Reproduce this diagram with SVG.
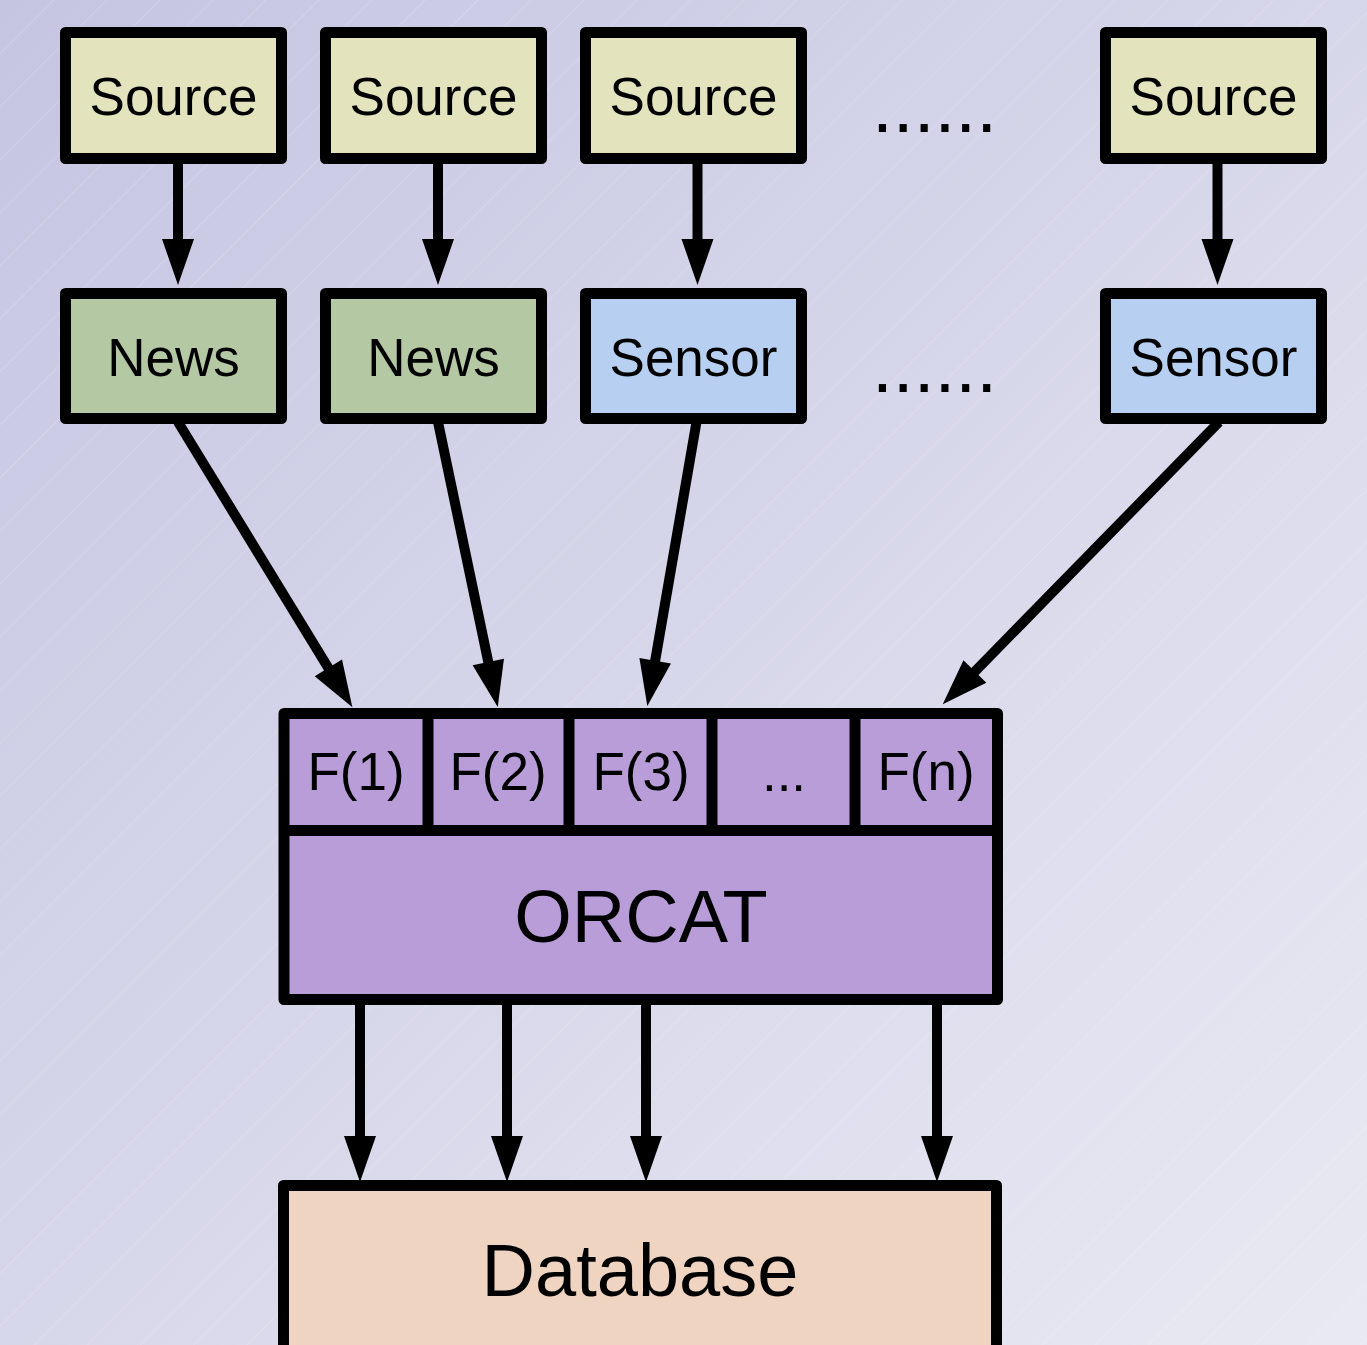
<svg xmlns="http://www.w3.org/2000/svg" width="1367" height="1345" viewBox="0 0 1367 1345">
  <defs>
    <linearGradient id="bg" x1="0" y1="0" x2="1" y2="1">
      <stop offset="0" stop-color="#c5c5e2"/>
      <stop offset="1" stop-color="#e9e9f3"/>
    </linearGradient>
    <pattern id="hatch" patternUnits="userSpaceOnUse" width="37.5" height="20" patternTransform="rotate(45)">
      <line x1="0" y1="0" x2="0" y2="20" stroke="#ffffff" stroke-opacity="0.28" stroke-width="1"/>
    </pattern>
    <marker id="head" viewBox="0 -16.5 47 33" refX="1" refY="0" markerWidth="47" markerHeight="33" markerUnits="userSpaceOnUse" orient="auto" overflow="visible">
      <path d="M0,-16 L46,0 L0,16 Z" fill="#000"/>
    </marker>
    <style>
      .box { stroke: #000; stroke-width: 11; stroke-linejoin: round; }
      .src { fill: #e3e3bd; }
      .news { fill: #b3c8a3; }
      .sensor { fill: #b7d0f2; }
      .orcat { fill: #b89dd9; }
      .db { fill: #eed4c1; }
      .lbl { font-family: "Liberation Sans", Arial, sans-serif; font-size: 53px; fill: #000; text-anchor: middle; }
      .big { font-size: 74px; }
      .dots { font-family: "Liberation Sans", Arial, sans-serif; font-size: 75px; fill: #000; }
      .div { stroke: #000; stroke-width: 11; }
      .conn line { stroke: #000; stroke-width: 10; marker-end: url(#head); }
    </style>
  </defs>

  <!-- background -->
  <rect x="0" y="0" width="1367" height="1345" fill="url(#bg)"/>
  <rect x="0" y="0" width="1367" height="1345" fill="url(#hatch)"/>

  <!-- source row -->
  <g id="source1"><rect class="box src" x="65.5" y="32.5" width="216" height="126"/><text class="lbl" x="173.5" y="115">Source</text></g>
  <g id="source2"><rect class="box src" x="325.5" y="32.5" width="216" height="126"/><text class="lbl" x="433.5" y="115">Source</text></g>
  <g id="source3"><rect class="box src" x="585.5" y="32.5" width="216" height="126"/><text class="lbl" x="693.5" y="115">Source</text></g>
  <g id="source4"><rect class="box src" x="1105.5" y="32.5" width="216" height="126"/><text class="lbl" x="1213.5" y="115">Source</text></g>
  <text id="dots-top" class="dots" x="872" y="132">......</text>

  <!-- feed row -->
  <g id="news1"><rect class="box news" x="65.5" y="293.5" width="216" height="125"/><text class="lbl" x="173.5" y="376">News</text></g>
  <g id="news2"><rect class="box news" x="325.5" y="293.5" width="216" height="125"/><text class="lbl" x="433.5" y="376">News</text></g>
  <g id="sensor1"><rect class="box sensor" x="585.5" y="293.5" width="216" height="125"/><text class="lbl" x="693.5" y="376">Sensor</text></g>
  <g id="sensor2"><rect class="box sensor" x="1105.5" y="293.5" width="216" height="125"/><text class="lbl" x="1213.5" y="376">Sensor</text></g>
  <text id="dots-mid" class="dots" x="872" y="392">......</text>

  <!-- ORCAT with its filter slots -->
  <g id="orcat">
    <rect class="box orcat" x="284" y="713.5" width="713.5" height="286"/>
    <line class="div" x1="284" y1="830.5" x2="997.5" y2="830.5" stroke-width="12"/>
    <line class="div" x1="428" y1="713.5" x2="428" y2="830.5"/>
    <line class="div" x1="569" y1="713.5" x2="569" y2="830.5"/>
    <line class="div" x1="712" y1="713.5" x2="712" y2="830.5"/>
    <line class="div" x1="855" y1="713.5" x2="855" y2="830.5"/>
    <text class="lbl" x="356" y="790">F(1)</text>
    <text class="lbl" x="498" y="790">F(2)</text>
    <text class="lbl" x="641" y="790">F(3)</text>
    <text class="lbl" x="784" y="791">...</text>
    <text class="lbl" x="926" y="790">F(n)</text>
    <text class="lbl big" x="641" y="942">ORCAT</text>
  </g>

  <!-- database -->
  <g id="database">
    <rect class="box db" x="283.5" y="1185.5" width="713" height="200"/>
    <text class="lbl" x="640" y="1296" style="font-size:74px">Database</text>
  </g>

  <!-- connectors -->
  <g id="connectors" class="conn">
    <line x1="178" y1="160" x2="178" y2="240"/>
    <line x1="438" y1="160" x2="438" y2="240"/>
    <line x1="697.5" y1="160" x2="697.5" y2="240"/>
    <line x1="1217.5" y1="160" x2="1217.5" y2="240"/>

    <line x1="178" y1="422" x2="328.9" y2="668.8"/>
    <line x1="438" y1="422" x2="488.5" y2="663"/>
    <line x1="696.5" y1="422" x2="655" y2="661.7"/>
    <line x1="1219" y1="422" x2="974.2" y2="672.2"/>

    <line x1="360" y1="1004" x2="360" y2="1137"/>
    <line x1="507" y1="1004" x2="507" y2="1137"/>
    <line x1="646" y1="1004" x2="646" y2="1137"/>
    <line x1="937" y1="1004" x2="937" y2="1137"/>
  </g>
</svg>
